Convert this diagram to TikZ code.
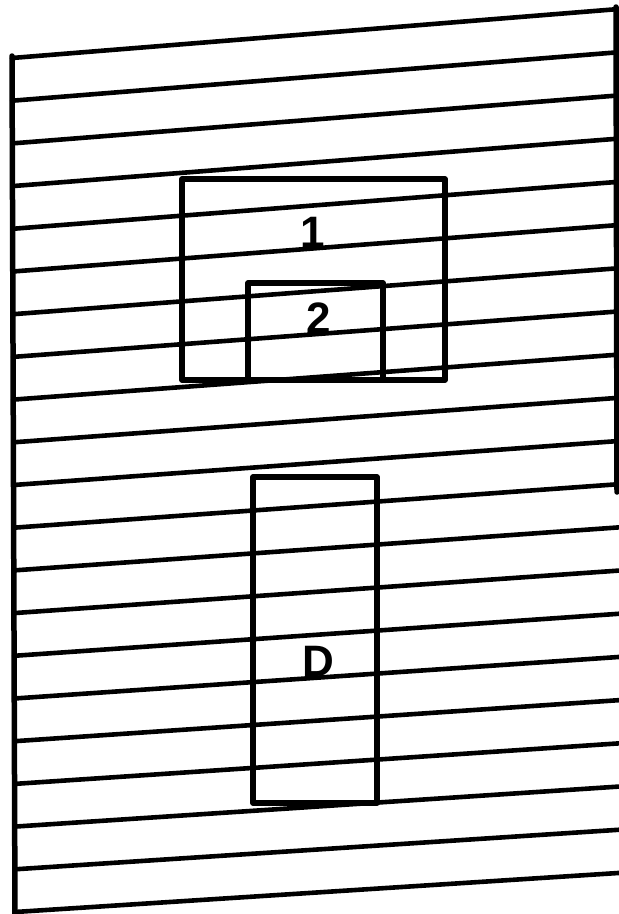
\documentclass[tikz,border=0pt]{standalone}
\usepackage{fontspec}
\setmainfont{Liberation Sans}
\begin{document}
\begin{tikzpicture}[x=1pt,y=-1pt,
  hatch/.style={line width=4.6pt,line cap=round},
  border/.style={line width=5.5pt,line cap=round},
  boxstyle/.style={draw,line width=5.4pt,line join=round,inner sep=0pt,rectangle},
  lbl/.style={font=\fontsize{44}{44}\selectfont\bfseries,inner sep=0pt}]
\fill[white] (0,0) rectangle (619,914);
\useasboundingbox (0,0) rectangle (619,914);
\begin{scope}
\clip (0,0) rectangle (619,914);
% hatch lines
\foreach \k in {0,...,20}{
  \pgfmathsetmacro{\yl}{58+42.7*\k}
  \pgfmathsetmacro{\yr}{9+43.2*\k}
  \pgfmathsetmacro{\xl}{12+3*(\yl-58)/856}
  \draw[hatch] (\xl,\yl) -- (622,\yr-0.25);
}
% borders
\coordinate (lt) at (12,56);
\coordinate (lb) at (15,918);
\coordinate (rt) at (616,7);
\coordinate (rb) at (617,492);
\draw[border] (lt) -- (lb);
\draw[border] (rt) -- (rb);
\end{scope}
% boxes
\node[boxstyle,minimum width=263pt,minimum height=201pt] (b1) at (313.5,279.5) {};
\node[boxstyle,minimum width=135pt,minimum height=97pt] (b2) at (315.5,331.5) {};
\node[boxstyle,minimum width=124pt,minimum height=326pt] (bd) at (315,640) {};
% labels
\node[lbl] (l1) at (313,232) {1};
\node[lbl] (l2) at (319,318) {2};
\node[lbl] (ld) at (318,661) {D};
\end{tikzpicture}
\end{document}
